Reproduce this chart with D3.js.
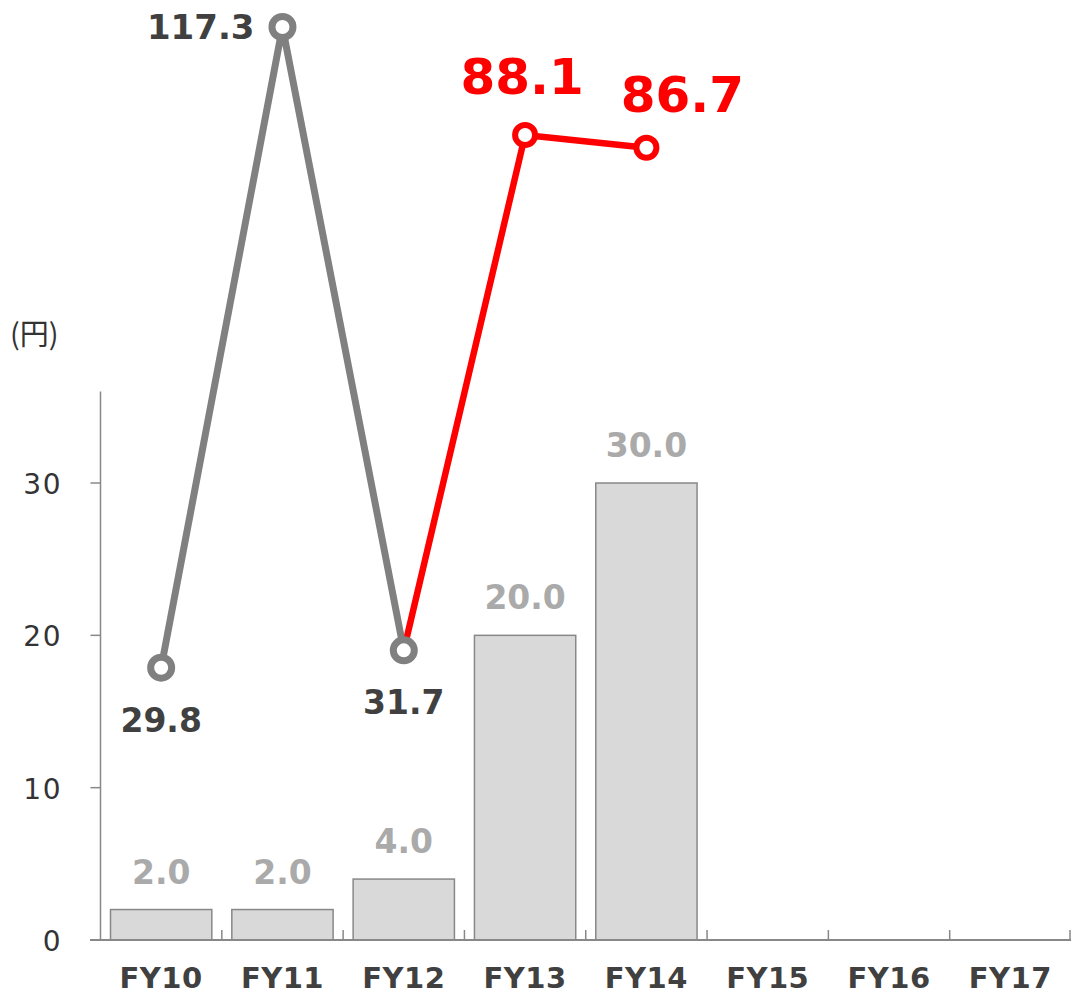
<!DOCTYPE html>
<html>
<head>
<meta charset="utf-8">
<script src="https://cdn.jsdelivr.net/npm/d3@7/dist/d3.min.js"></script>
<style>
  html, body { margin: 0; padding: 0; background: #fff; }
  svg { display: block; }
</style>
</head>
<body>
<svg id="chart" width="1071" height="997"></svg>
<script>
// ---- data ----
const categories = ["FY10", "FY11", "FY12", "FY13", "FY14", "FY15", "FY16", "FY17"];
const barValues = [2.0, 2.0, 4.0, 20.0, 30.0, null, null, null];
const barLabels = ["2.0", "2.0", "4.0", "20.0", "30.0"];
const greyLine = [
  { cat: "FY10", value: 29.8 },
  { cat: "FY11", value: 117.3 },
  { cat: "FY12", value: 31.7 }
];
const redLine = [
  { cat: "FY12", value: 31.7 },
  { cat: "FY13", value: 88.1 },
  { cat: "FY14", value: 86.7 }
];
const yTicks = [0, 10, 20, 30];
const unitLabel = "(円)";

// ---- layout ----
const svg = d3.select("#chart");
const left = 100.5, right = 1071, bottom = 940;

const x = d3.scaleBand().domain(categories).range([left, right])
  .paddingInner(0.165).paddingOuter(0.0825);
const xStep = d3.scaleBand().domain(categories).range([left, right]).padding(0);

const y = d3.scaleLinear().domain([0, 36]).range([bottom, bottom - 36 * 15.233]);
// line values use a separate (broken) scale
const y2 = d3.scaleLinear().domain([0, 88.1, 117.3]).range([bottom, 135, 27]);

const axisColor = "#888";
const textDark = "#404040";

// y axis
svg.append("line")
  .attr("x1", left).attr("x2", left)
  .attr("y1", y(36)).attr("y2", bottom)
  .attr("stroke", axisColor).attr("stroke-width", 1.5);
yTicks.forEach(t => {
  svg.append("line")
    .attr("x1", left - 10).attr("x2", left)
    .attr("y1", y(t)).attr("y2", y(t))
    .attr("stroke", axisColor).attr("stroke-width", 1.5);
  svg.append("text")
    .attr("x", 62).attr("y", y(t) + 11)
    .attr("text-anchor", "end")
    .attr("font-family", "DejaVu Sans, sans-serif")
    .attr("font-size", 28)
    .attr("letter-spacing", 1.5)
    .attr("fill", "#333")
    .text(t);
});

svg.append("text")
  .attr("x", 10).attr("y", 345)
  .attr("font-family", "Noto Sans CJK JP, sans-serif")
  .attr("font-size", 29)
  .attr("fill", "#333")
  .text(unitLabel);

// bars
categories.forEach((c, i) => {
  const v = barValues[i];
  if (v == null) return;
  svg.append("rect")
    .attr("x", x(c)).attr("y", y(v))
    .attr("width", x.bandwidth()).attr("height", bottom - y(v))
    .attr("fill", "#d9d9d9").attr("stroke", axisColor).attr("stroke-width", 1.5);
  svg.append("text")
    .attr("x", x(c) + x.bandwidth() / 2).attr("y", y(v) - 26)
    .attr("text-anchor", "middle")
    .attr("font-family", "DejaVu Sans, sans-serif")
    .attr("font-weight", "bold")
    .attr("font-size", 33)
    .attr("fill", "#aaaaaa")
    .text(barLabels[i]);
});

// x axis
svg.append("line")
  .attr("x1", 90).attr("x2", right)
  .attr("y1", bottom).attr("y2", bottom)
  .attr("stroke", axisColor).attr("stroke-width", 2);
categories.forEach((c, i) => {
  if (i === 0) return;
  svg.append("line")
    .attr("x1", xStep(c)).attr("x2", xStep(c))
    .attr("y1", bottom - 10).attr("y2", bottom)
    .attr("stroke", axisColor).attr("stroke-width", 1.5);
});
svg.append("line")
  .attr("x1", right - 1).attr("x2", right - 1)
  .attr("y1", bottom - 10).attr("y2", bottom)
  .attr("stroke", axisColor).attr("stroke-width", 1.5);

categories.forEach(c => {
  svg.append("text")
    .attr("x", x(c) + x.bandwidth() / 2).attr("y", 988)
    .attr("text-anchor", "middle")
    .attr("font-family", "DejaVu Sans, sans-serif")
    .attr("font-weight", "bold")
    .attr("font-size", 29)
    .attr("letter-spacing", 0.5)
    .attr("fill", textDark)
    .text(c);
});

// lines
const cx = d => x(d.cat) + x.bandwidth() / 2;
const lineGen = d3.line().x(cx).y(d => y2(d.value));

svg.append("path").datum(redLine)
  .attr("d", lineGen).attr("fill", "none")
  .attr("stroke", "#ff0000").attr("stroke-width", 6.5);
svg.append("path").datum(greyLine)
  .attr("d", lineGen).attr("fill", "none")
  .attr("stroke", "#808080").attr("stroke-width", 7);

redLine.slice(1).forEach(d => {
  svg.append("circle").attr("cx", cx(d)).attr("cy", y2(d.value)).attr("r", 10)
    .attr("fill", "#fff").attr("stroke", "#ff0000").attr("stroke-width", 6);
});
greyLine.forEach(d => {
  svg.append("circle").attr("cx", cx(d)).attr("cy", y2(d.value)).attr("r", 10.5)
    .attr("fill", "#fff").attr("stroke", "#808080").attr("stroke-width", 7);
});

// line labels
function lbl(d, dx, dy, anchor, size, color) {
  svg.append("text")
    .attr("x", cx(d) + dx).attr("y", y2(d.value) + dy)
    .attr("text-anchor", anchor)
    .attr("font-family", "DejaVu Sans, sans-serif")
    .attr("font-weight", "bold")
    .attr("font-size", size)
    .attr("fill", color)
    .text(d.value.toFixed(1));
}
lbl(greyLine[0], 0, 64, "middle", 33, textDark);
lbl(greyLine[1], -28, 12, "end", 34, textDark);
lbl(greyLine[2], 0, 64, "middle", 33, textDark);
lbl(redLine[1], -3, -41, "middle", 50, "#ff0000");
lbl(redLine[2], 36, -36, "middle", 50, "#ff0000");
</script>
</body>
</html>
